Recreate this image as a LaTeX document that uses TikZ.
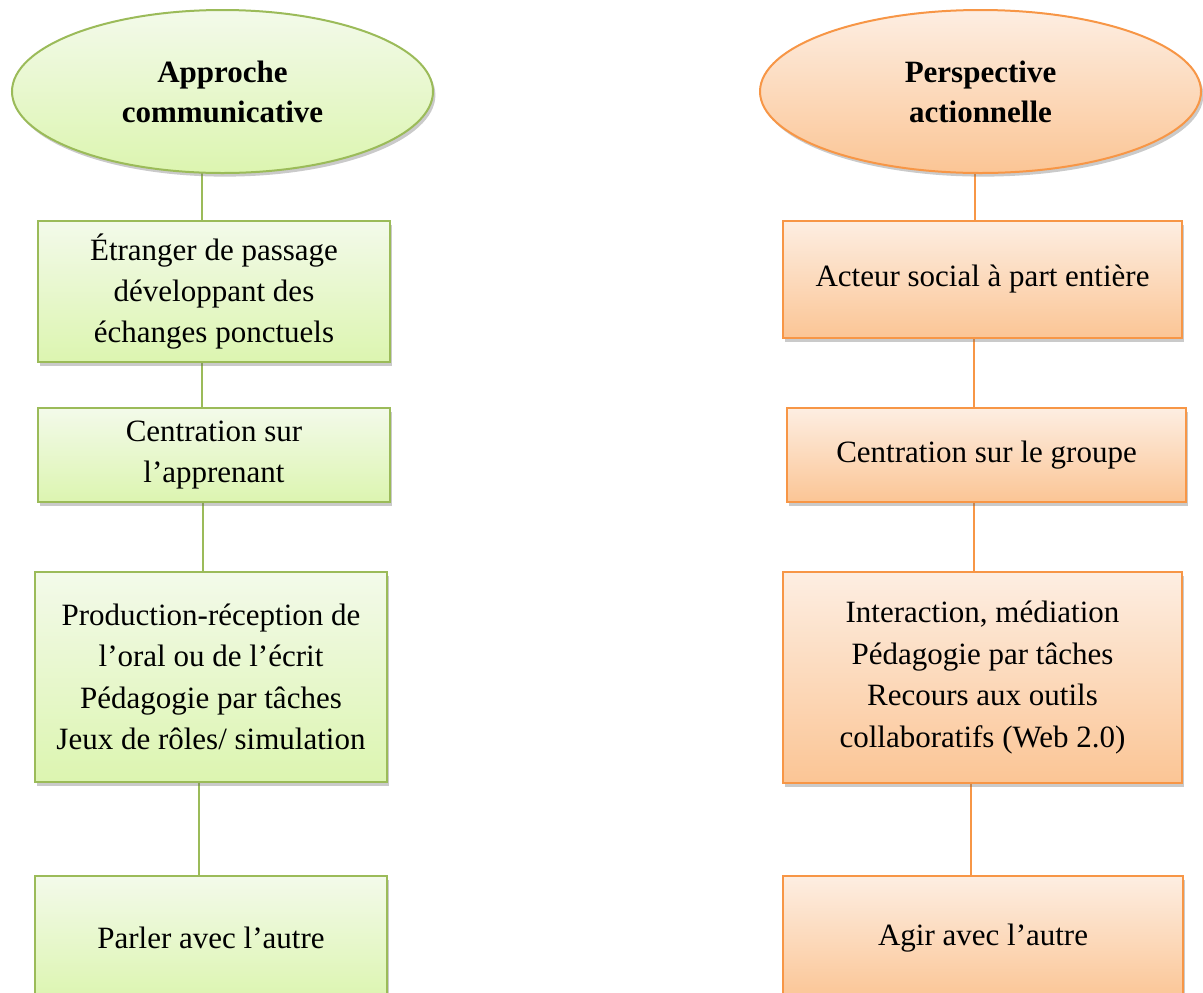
\documentclass[tikz,border=0pt]{standalone}
\usepackage{fontspec}
\setmainfont{Liberation Serif}
\usetikzlibrary{shapes.geometric,shadows,backgrounds}
\definecolor{gborder}{HTML}{9BBB59}
\definecolor{gtop}{HTML}{F3FAEA}
\definecolor{gbot}{HTML}{DCF5B0}
\definecolor{oborder}{HTML}{F79646}
\definecolor{otop}{HTML}{FDEEE2}
\definecolor{obot}{HTML}{FBC595}
\tikzset{
  x=0.5pt, y=-0.5pt,
  txt/.style={font=\fontsize{15.5}{20.7}\selectfont, align=center, text=black, inner sep=0pt},
  shad/.style={drop shadow={shadow xshift=1.2pt, shadow yshift=-1.8pt, opacity=0.35, fill=black!60}},
  gbox/.style={txt, rectangle, draw=gborder, line width=1pt, top color=gtop, bottom color=gbot, shad},
  obox/.style={txt, rectangle, draw=oborder, line width=1pt, top color=otop, bottom color=obot, shad},
  gell/.style={gbox, ellipse, font=\fontsize{15.5}{20}\selectfont\bfseries},
  oell/.style={obox, ellipse, font=\fontsize{15.5}{20}\selectfont\bfseries},
  gline/.style={draw=gborder, line width=1pt},
  oline/.style={draw=oborder, line width=1pt},
}
\begin{document}
\begin{tikzpicture}
\useasboundingbox (0,0) rectangle (1203,992);
% left column
\node[gell, minimum width=210.5pt, minimum height=81.5pt] (e1) at (222.5,91.5) {Approche\\communicative};
\node[gbox, minimum width=176pt, minimum height=70.5pt] (l1) at (214,291.5) {Étranger de passage\\développant des\\échanges ponctuels};
\node[gbox, minimum width=176pt, minimum height=47pt] (l2) at (214,455) {Centration sur\\l’apprenant};
\node[gbox, minimum width=176pt, minimum height=105pt] (l3) at (211,677) {Production-réception de\\l’oral ou de l’écrit\\Pédagogie par tâches\\Jeux de rôles/ simulation};
\node[gbox, minimum width=176pt, minimum height=62pt] (l4) at (211,938) {Parler avec l’autre};
% right column
\node[oell, minimum width=220.5pt, minimum height=81.5pt] (e2) at (980.5,91.5) {Perspective\\actionnelle};
\node[obox, minimum width=199.5pt, minimum height=58.5pt] (r1) at (982.5,279.5) {Acteur social à part entière};
\node[obox, minimum width=199.5pt, minimum height=47pt] (r2) at (986.5,455) {Centration sur le groupe};
\node[obox, minimum width=199.5pt, minimum height=105.5pt] (r3) at (982.5,677.5) {Interaction, médiation\\Pédagogie par tâches\\Recours aux outils\\collaboratifs (Web 2.0)};
\node[obox, minimum width=200pt, minimum height=62pt] (r4) at (983,938) {Agir avec l’autre};
% anchor columns for connectors
\coordinate (xa) at (202,0);
\coordinate (xb) at (203,0);
\coordinate (xc) at (199,0);
\coordinate (xd) at (975,0);
\coordinate (xe) at (974,0);
\coordinate (xf) at (971,0);
\begin{scope}[on background layer]
\draw[gline] (e1.center -| xa) -- (l1.north -| xa);
\draw[gline] (l1.south -| xa) -- (l2.north -| xa);
\draw[gline] (l2.south -| xb) -- (l3.north -| xb);
\draw[gline] (l3.south -| xc) -- (l4.north -| xc);
\draw[oline] (e2.center -| xd) -- (r1.north -| xd);
\draw[oline] (r1.south -| xe) -- (r2.north -| xe);
\draw[oline] (r2.south -| xe) -- (r3.north -| xe);
\draw[oline] (r3.south -| xf) -- (r4.north -| xf);
\end{scope}
\end{tikzpicture}
\end{document}
